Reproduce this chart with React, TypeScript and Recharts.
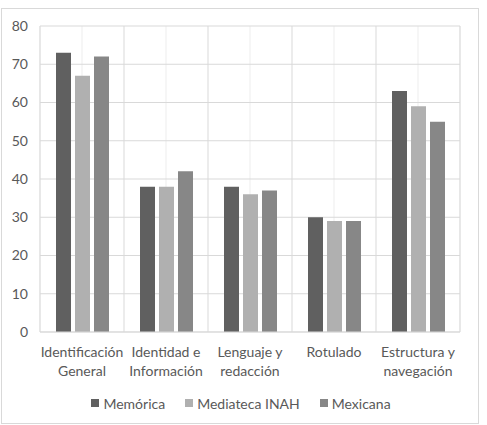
import { BarChart, Bar, XAxis, YAxis, CartesianGrid, Legend } from "recharts";

const categories = [
  "Identificación General",
  "Identidad e Información",
  "Lenguaje y redacción",
  "Rotulado",
  "Estructura y navegación",
];
const labelLines = [
  ["Identificación", "General"],
  ["Identidad e", "Información"],
  ["Lenguaje y", "redacción"],
  ["Rotulado"],
  ["Estructura y", "navegación"],
];
const memorica = [73, 38, 38, 30, 63];
const mediateca = [67, 38, 36, 29, 59];
const mexicana = [72, 42, 37, 29, 55];
const yTicks = [0, 10, 20, 30, 40, 50, 60, 70, 80];

const seriesInfo = [
  { key: "memorica", name: "Memórica", color: "#606060" },
  { key: "mediateca", name: "Mediateca INAH", color: "#b0b0b0" },
  { key: "mexicana", name: "Mexicana", color: "#878787" },
];

const FONT = "Lato, 'Liberation Sans', sans-serif";
const TEXT = "#595959";

const data = categories.map((name, i) => ({
  name,
  memorica: memorica[i],
  mediateca: mediateca[i],
  mexicana: mexicana[i],
}));

// vertical lines on the category boundaries
const boundaryLines = ({ offset }: any) =>
  Array.from({ length: categories.length + 1 }, (_, i) => offset.left + (i * offset.width) / categories.length);

const CategoryTick = ({ x, y, index }: any) => {
  const lines = labelLines[index] || [];
  return (
    <text x={x} y={y} textAnchor="middle" fill={TEXT} fontSize={14} fontFamily={FONT}>
      {lines.map((l, i) => (
        <tspan key={i} x={x} dy={i === 0 ? 17 : 19}>
          {l}
        </tspan>
      ))}
    </text>
  );
};

const LegendBox = () => (
  <div
    style={{
      height: 30,
      display: "flex",
      alignItems: "center",
      justifyContent: "center",
      paddingLeft: 20,
      boxSizing: "border-box",
      fontFamily: FONT,
      fontSize: 14,
      color: TEXT,
    }}
  >
    {seriesInfo.map((s) => (
      <span key={s.key} style={{ display: "flex", alignItems: "center", margin: "0 10px" }}>
        <span style={{ width: 8, height: 8, background: s.color, marginRight: 4, display: "inline-block" }} />
        {s.name}
      </span>
    ))}
  </div>
);

export default function App() {
  return (
    <div
      style={{
        position: "absolute",
        left: 1,
        top: 8,
        width: 478,
        height: 416,
        border: "1px solid #d9d9d9",
        boxSizing: "border-box",
        background: "#fff",
      }}
    >
      <BarChart
        width={476}
        height={414}
        data={data}
        margin={{ top: 17, right: 18, left: 0, bottom: 5 }}
        barGap={4}
        barSize={15}
      >
        <CartesianGrid vertical={true} horizontal={false} stroke="#ededed" />
        <CartesianGrid
          vertical={true}
          horizontal={true}
          stroke="#d9d9d9"
          verticalCoordinatesGenerator={boundaryLines}
        />
        <XAxis
          dataKey="name"
          interval={0}
          height={56}
          tickLine={false}
          axisLine={{ stroke: "#d9d9d9" }}
          tick={<CategoryTick />}
        />
        <YAxis
          domain={[0, 80]}
          ticks={yTicks}
          width={38}
          axisLine={false}
          tickLine={false}
          tickSize={0}
          tickMargin={12}
          tick={{ fill: TEXT, fontSize: 14, fontFamily: FONT }}
        />
        <Legend verticalAlign="bottom" height={30} content={<LegendBox />} />
        {seriesInfo.map((s) => (
          <Bar key={s.key} dataKey={s.key} name={s.name} fill={s.color} isAnimationActive={false} />
        ))}
      </BarChart>
    </div>
  );
}
